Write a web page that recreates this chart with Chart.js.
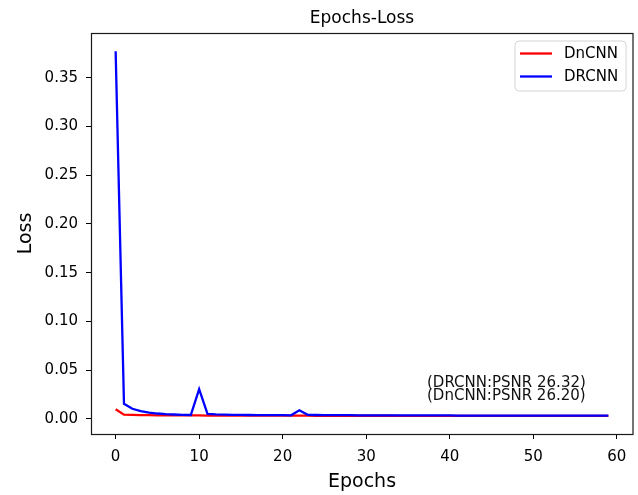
<!DOCTYPE html>
<html>
<head>
<meta charset="utf-8">
<script src="https://cdn.jsdelivr.net/npm/chart.js@4/dist/chart.umd.min.js"></script>
<style>
html,body{margin:0;padding:0;background:#fff;}
#c{display:block;}
</style>
</head>
<body>
<canvas id="c" width="638" height="495"></canvas>
<script>
const epochs = [0,1,2,3,4,5,6,7,8,9,10,11,12,13,14,15,16,17,18,19,20,21,22,23,24,25,26,27,28,29,30,31,32,33,34,35,36,37,38,39,40,41,42,43,44,45,46,47,48,49,50,51,52,53,54,55,56,57,58,59];
const drcnnLoss = [0.377,0.0155,0.0105,0.0080,0.0066,0.0056,0.0050,0.0046,0.0043,0.0041,
  0.0305,0.0052,0.0047,0.0045,0.0043,0.0042,0.0041,0.0040,0.0040,0.0039,
  0.0039,0.0038,0.0089,0.0043,0.0041,0.0040,0.0040,0.0039,0.0039,0.0038,
  0.0038,0.0038,0.0037,0.0037,0.0037,0.0037,0.0036,0.0036,0.0036,0.0036,
  0.0036,0.0035,0.0035,0.0035,0.0035,0.0035,0.0035,0.0035,0.0034,0.0034,
  0.0034,0.0034,0.0034,0.0034,0.0034,0.0034,0.0034,0.0034,0.0034,0.0034];
const dncnnLoss = [0.0100,0.0045,0.0042,0.0040,0.0039,0.0038,0.0037,0.0037,0.0036,0.0036,
  0.0036,0.0035,0.0035,0.0035,0.0035,0.0035,0.0034,0.0034,0.0034,0.0034,
  0.0034,0.0034,0.0034,0.0034,0.0033,0.0033,0.0033,0.0033,0.0033,0.0033,
  0.0033,0.0033,0.0033,0.0033,0.0032,0.0032,0.0032,0.0032,0.0032,0.0032,
  0.0032,0.0032,0.0032,0.0032,0.0032,0.0032,0.0031,0.0031,0.0031,0.0031,
  0.0031,0.0031,0.0031,0.0031,0.0031,0.0031,0.0031,0.0031,0.0031,0.0031];
const xTicks = [0,10,20,30,40,50,60];
const yTicks = [0.00,0.05,0.10,0.15,0.20,0.25,0.30,0.35];
const yTickLabels = ['0.00','0.05','0.10','0.15','0.20','0.25','0.30','0.35'];
const seriesNames = ['DnCNN','DRCNN'];
const seriesColors = ['#ff0000','#0000ff'];
const annotations = ['(DRCNN:PSNR 26.32)','(DnCNN:PSNR 26.20)'];

const FONT = "'DejaVu Sans', sans-serif";

const toPts = (xs, ys) => xs.map((x, i) => ({x: x, y: ys[i]}));

const framePlugin = {
  id: 'frameAndExtras',
  afterDraw(chart) {
    const ctx = chart.ctx;
    const a = chart.chartArea;
    ctx.save();
    // frame
    ctx.strokeStyle = '#1a1a1a';
    ctx.lineWidth = 1.2;
    ctx.strokeRect(Math.round(a.left) + 0.5, Math.round(a.top) + 0.5,
                   Math.round(a.right - a.left) - 0.5, Math.round(a.bottom - a.top));
    // legend
    const lx = 515, ly = 41, lw = 111, lh = 50, r = 4;
    ctx.beginPath();
    ctx.moveTo(lx + r, ly);
    ctx.lineTo(lx + lw - r, ly);
    ctx.quadraticCurveTo(lx + lw, ly, lx + lw, ly + r);
    ctx.lineTo(lx + lw, ly + lh - r);
    ctx.quadraticCurveTo(lx + lw, ly + lh, lx + lw - r, ly + lh);
    ctx.lineTo(lx + r, ly + lh);
    ctx.quadraticCurveTo(lx, ly + lh, lx, ly + lh - r);
    ctx.lineTo(lx, ly + r);
    ctx.quadraticCurveTo(lx, ly, lx + r, ly);
    ctx.closePath();
    ctx.fillStyle = 'rgba(255,255,255,0.85)';
    ctx.fill();
    ctx.strokeStyle = '#d4d4d4';
    ctx.lineWidth = 1;
    ctx.stroke();
    ctx.font = '15px ' + FONT;
    ctx.textBaseline = 'middle';
    ctx.textAlign = 'left';
    seriesNames.forEach((name, i) => {
      const y = 53.5 + i * 23;
      ctx.strokeStyle = seriesColors[i];
      ctx.lineWidth = 2.3;
      ctx.beginPath();
      ctx.moveTo(520, y);
      ctx.lineTo(552, y);
      ctx.stroke();
      ctx.fillStyle = '#000';
      ctx.fillText(name, 564, y + 0.5);
    });
    // annotations
    ctx.fillStyle = '#111';
    ctx.font = '15px ' + FONT;
    annotations.forEach((t, i) => {
      ctx.fillText(t, 427, 383.5 + i * 12.5);
    });
    ctx.restore();
  }
};

new Chart(document.getElementById('c'), {
  type: 'line',
  data: {
    datasets: [
      {label: seriesNames[0], data: toPts(epochs, dncnnLoss), borderColor: seriesColors[0], backgroundColor: seriesColors[0], borderWidth: 2.3, pointRadius: 0, tension: 0, order: 2},
      {label: seriesNames[1], data: toPts(epochs, drcnnLoss), borderColor: seriesColors[1], backgroundColor: seriesColors[1], borderWidth: 2.3, pointRadius: 0, tension: 0, order: 1}
    ]
  },
  options: {
    responsive: false,
    animation: false,
    devicePixelRatio: 1,
    layout: {padding: {left: 0, right: 5, top: 0, bottom: 0}},
    plugins: {
      legend: {display: false},
      tooltip: {enabled: false},
      title: {
        display: true,
        fullSize: false,
        text: 'Epochs-Loss',
        color: '#000',
        font: {family: FONT, size: 17, weight: 'normal', lineHeight: 1.2},
        padding: {top: 8.5, bottom: 4.1}
      }
    },
    scales: {
      x: {
        type: 'linear',
        min: -2.95,
        max: 61.95,
        afterBuildTicks: (axis) => { axis.ticks = xTicks.map(v => ({value: v})); },
        afterFit: (axis) => { axis.height = 61; },
        border: {display: false},
        grid: {display: true, drawOnChartArea: false, drawTicks: true, tickLength: 5, tickColor: '#000', tickWidth: 1},
        ticks: {color: '#000', font: {family: FONT, size: 15}, padding: 9, maxRotation: 0, autoSkip: false},
        title: {display: true, text: 'Epochs', color: '#000', font: {family: FONT, size: 19}, padding: {top: 0, bottom: 1.6}}
      },
      y: {
        type: 'linear',
        min: -0.0154,
        max: 0.3958,
        afterBuildTicks: (axis) => { axis.ticks = yTicks.map(v => ({value: v})); },
        afterFit: (axis) => { axis.width = 91; },
        border: {display: false},
        grid: {display: true, drawOnChartArea: false, drawTicks: true, tickLength: 5, tickColor: '#000', tickWidth: 1},
        ticks: {
          color: '#000', font: {family: FONT, size: 15}, padding: 8, autoSkip: false,
          callback: (v) => { const i = yTicks.findIndex(t => Math.abs(t - v) < 1e-9); return i >= 0 ? yTickLabels[i] : ''; }
        },
        title: {display: true, text: 'Loss', color: '#000', font: {family: FONT, size: 19}, padding: {top: 14.6, bottom: 0}}
      }
    }
  },
  plugins: [framePlugin]
});
</script>
</body>
</html>
